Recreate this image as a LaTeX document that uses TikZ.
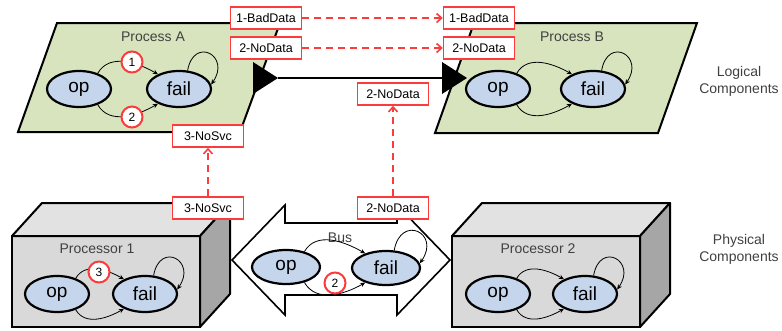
\documentclass[tikz,border=0pt]{standalone}
\usepackage{fontspec}
\setmainfont{Liberation Sans}
\usetikzlibrary{arrows.meta}
\usetikzlibrary{shapes.geometric}
\definecolor{procgreen}{RGB}{215,228,189}
\definecolor{stateblue}{RGB}{197,214,236}
\definecolor{boxfront}{RGB}{217,217,217}
\definecolor{boxtop}{RGB}{226,226,226}
\definecolor{boxside}{RGB}{166,166,166}
\definecolor{myred}{RGB}{250,60,60}
\definecolor{textgray}{RGB}{64,64,64}
\tikzset{%
    state/.style={ellipse,draw=black,line width=2.2pt,fill=stateblue,inner sep=0pt,
        minimum width=64pt,minimum height=36pt,font=\fontsize{19}{20}\selectfont},
    lbl/.style={draw=myred,line width=1.5pt,fill=white,inner sep=0pt,
        minimum width=71pt,minimum height=22pt,font=\fontsize{12.5}{13}\selectfont}
}

\begin{document}
\begin{tikzpicture}[x=1pt,y=1pt,
        proc/.style={fill=procgreen,draw=black,line width=2pt,line join=miter},
        front/.style={fill=boxfront,draw=black,line width=2pt},
        topface/.style={fill=boxtop,draw=black,line width=2pt,line join=round},
        sideface/.style={fill=boxside,draw=black,line width=2pt,line join=round},
        title/.style={text=textgray,font=\fontsize{14}{16}\selectfont},
        side/.style={text=textgray,align=center,font=\fontsize{14}{17}\selectfont},
        fault/.style={circle,draw=myred,line width=2pt,fill=white,inner sep=0pt,
            minimum size=21pt,font=\fontsize{12}{12}\selectfont},
        trans/.style={line width=0.8pt,-{Stealth[length=5pt,width=4.5pt]}},
        selfloop/.style={out=80,in=55,looseness=3.3},
        msg/.style={draw=myred,line width=1.6pt,dash pattern=on 7pt off 5pt,
            -{Straight Barb[length=5pt,width=9pt]}}
        ]
        \useasboundingbox (0,0) rectangle (782,-330);

        \filldraw[proc] (57,-23) -- (280,-23) -- (240,-132) -- (18,-132) -- cycle;
        \filldraw[proc] (474,-23) -- (697,-23) -- (658,-133) -- (435,-133) -- cycle;
        \node[title] (titleA) at (153,-37) {Process A};
        \node[title] (titleB) at (572,-37) {Process B};

        \filldraw[front] (12,-236) rectangle (200,-327);
        \filldraw[topface] (12,-236) -- (42,-203) -- (230,-203) -- (200,-236) -- cycle;
        \filldraw[sideface] (200,-236) -- (230,-203) -- (230,-294) -- (200,-327) -- cycle;
        \filldraw[front] (452,-236) rectangle (640,-327);
        \filldraw[topface] (452,-236) -- (482,-203) -- (670,-203) -- (640,-236) -- cycle;
        \filldraw[sideface] (640,-236) -- (670,-203) -- (670,-294) -- (640,-327) -- cycle;
        \node[title] (titleP1) at (97,-249) {Processor 1};
        \node[title] (titleP2) at (538,-249) {Processor 2};

        \filldraw[fill=white,draw=black,line width=1.6pt,line join=miter]
            (232,-260) -- (285,-205) -- (285,-223) -- (397,-223) -- (397,-205) -- (450,-260)
            -- (397,-315) -- (397,-295) -- (285,-295) -- (285,-315) -- cycle;
        \node[title] (titleBus) at (340,-238) {Bus};

        \coordinate (portA) at (278,-78);
        \coordinate (portB) at (442,-78);
        \draw[line width=1.6pt] (portA) -- (portB);
        \fill (253,-62) -- (portA) -- (253,-94) -- cycle;
        \fill (442,-62) -- (467,-78) -- (442,-94) -- cycle;

        \node[state] (opA) at (79,-89) {op};
        \node[state] (failA) at (179,-89) {fail};
        \node[state] (opB) at (498,-89) {op};
        \node[state] (failB) at (593,-89) {fail};
        \node[state] (opP1) at (57,-294) {op};
        \node[state] (failP1) at (145,-294) {fail};
        \node[state] (opP2) at (498,-294) {op};
        \node[state] (failP2) at (585,-294) {fail};
        \node[state, minimum width=68pt, minimum height=34pt] (opBus) at (286,-267) {op};
        \node[state, minimum width=68pt, minimum height=34pt] (failBus) at (386,-268) {fail};

        \draw[trans] (opA.40) to[out=60,in=150] (failA.145);
        \draw[trans] (opA.-40) to[out=-60,in=-150] (failA.-145);
        \draw[trans] (failA.65) to[selfloop] (failA.8);
        \draw[trans] (opB.40) to[out=60,in=150] (failB.145);
        \draw[trans] (opB.-40) to[out=-60,in=-150] (failB.-145);
        \draw[trans] (failB.65) to[selfloop] (failB.8);
        \draw[trans] (opP1.40) to[out=60,in=150] (failP1.145);
        \draw[trans] (opP1.-40) to[out=-60,in=-150] (failP1.-145);
        \draw[trans] (failP1.65) to[selfloop] (failP1.8);
        \draw[trans] (opP2.40) to[out=60,in=150] (failP2.145);
        \draw[trans] (opP2.-40) to[out=-60,in=-150] (failP2.-145);
        \draw[trans] (failP2.65) to[selfloop] (failP2.8);
        \draw[trans] (opBus.40) to[out=60,in=150] (failBus.145);
        \draw[trans] (opBus.-40) to[out=-60,in=-150] (failBus.-145);
        \draw[trans] (failBus.65) to[selfloop] (failBus.8);

        \node[fault] (f1) at (132,-62) {1};
        \node[fault] (f2) at (132,-117) {2};
        \node[fault] (f3) at (99,-272) {3};
        \node[fault] (f2bus) at (335,-283) {2};

        \node[lbl] (badA) at (266,-18) {1-BadData};
        \node[lbl] (nodA) at (266,-48) {2-NoData};
        \node[lbl] (badB) at (479,-18) {1-BadData};
        \node[lbl] (nodB) at (479,-48) {2-NoData};
        \node[lbl] (nodL) at (393,-94) {2-NoData};
        \node[lbl] (svcL) at (208,-136) {3-NoSvc};
        \node[lbl] (svcP) at (208,-208) {3-NoSvc};
        \node[lbl] (nodP) at (393,-208) {2-NoData};

        \draw[msg] (badA) -- (badB);
        \draw[msg] (nodA) -- (nodB);
        \draw[msg] (nodP) -- (nodL);
        \draw[msg] (svcP) -- (svcL);

        \node[side] (logical) at (739,-81) {Logical\\Components};
        \node[side] (physical) at (739,-249) {Physical\\Components};
    \end{tikzpicture}
\end{document}
